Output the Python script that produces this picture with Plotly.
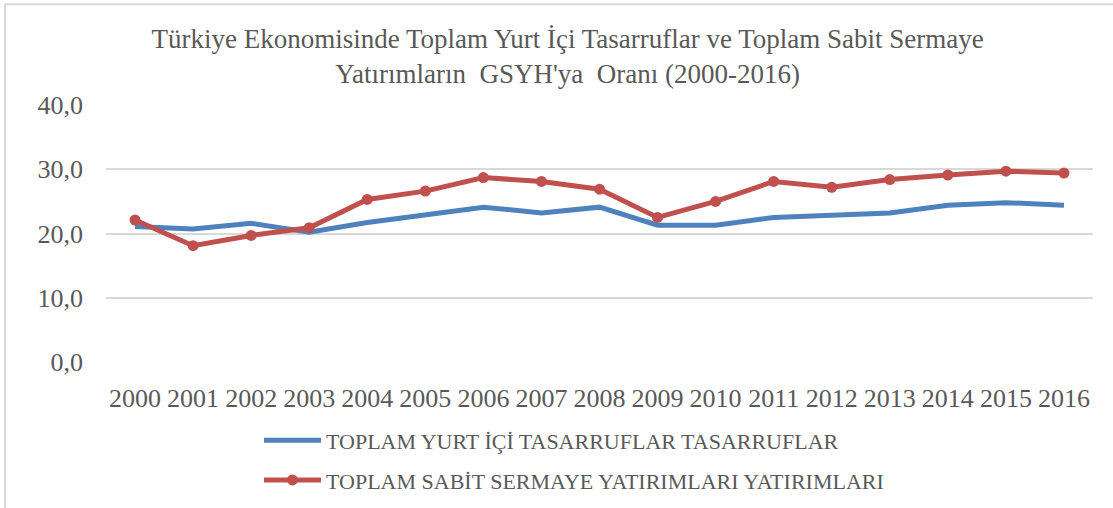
import plotly.graph_objects as go

years = [str(y) for y in range(2000, 2017)]
tasarruf = [21.1, 20.7, 21.6, 20.2, 21.7, 22.9, 24.1, 23.2, 24.1, 21.3, 21.3, 22.5, 22.9, 23.2, 24.4, 24.8, 24.4]
yatirim = [22.1, 18.1, 19.7, 20.9, 25.3, 26.6, 28.7, 28.1, 26.9, 22.5, 25.0, 28.1, 27.2, 28.4, 29.1, 29.7, 29.4]
y_ticks = [0, 10, 20, 30, 40]
y_tick_text = ["0,0", "10,0", "20,0", "30,0", "40,0"]

FONT = "Liberation Serif, Times New Roman, serif"
TXT = "#595959"

fig = go.Figure()
fig.add_trace(go.Scatter(
    x=years, y=tasarruf, mode="lines",
    name="TOPLAM YURT İÇİ TASARRUFLAR TASARRUFLAR", legendgroup="a",
    line=dict(color="#4F81BD", width=5),
))
fig.add_trace(go.Scatter(
    x=years, y=yatirim, mode="lines+markers",
    name="TOPLAM SABİT SERMAYE YATIRIMLARI YATIRIMLARI", legendgroup="b",
    line=dict(color="#C0504D", width=5),
    marker=dict(color="#C0504D", size=11),
))

fig.update_layout(
    template="none",
    width=1113, height=508,
    margin=dict(l=106, r=20, t=105, b=146, autoexpand=False),
    paper_bgcolor="white", plot_bgcolor="white",
    font=dict(family=FONT, color=TXT),
    title=dict(
        text="Türkiye Ekonomisinde Toplam Yurt İçi Tasarruflar ve Toplam Sabit Sermaye<br>Yatırımların  GSYH'ya  Oranı (2000-2016)",
        x=0.51, xanchor="center", y=0.905, yanchor="middle",
        font=dict(family=FONT, size=27, color=TXT),
    ),
    xaxis=dict(
        type="category", range=[-0.5, len(years) - 0.5],
        showgrid=False, showline=False, zeroline=False, ticks="",
        tickfont=dict(family=FONT, size=26, color=TXT), tickangle=0,
        ticklabelstandoff=18, automargin=False,
    ),
    yaxis=dict(
        range=[0, 40], tickvals=y_ticks, ticktext=y_tick_text,
        showgrid=True, gridcolor="#D9D9D9", gridwidth=1.5,
        zeroline=False, showline=False, ticks="",
        tickfont=dict(family=FONT, size=26, color=TXT), ticklabelstandoff=22,
        automargin=False,
    ),
    legend=dict(
        orientation="v", x=0.155, xanchor="left", y=-0.543, yanchor="bottom",
        font=dict(family=FONT, size=22, color=TXT), bgcolor="rgba(0,0,0,0)",
        itemwidth=57, tracegroupgap=8,
    ),
    showlegend=True,
    shapes=[dict(
        type="rect", xref="paper", yref="paper",
        x0=-0.1023, x1=1.05, y0=-0.65, y1=1.392,
        line=dict(color="#D9D9D9", width=2), fillcolor="rgba(0,0,0,0)", layer="below",
    )],
)

fig.write_html("out.html")
